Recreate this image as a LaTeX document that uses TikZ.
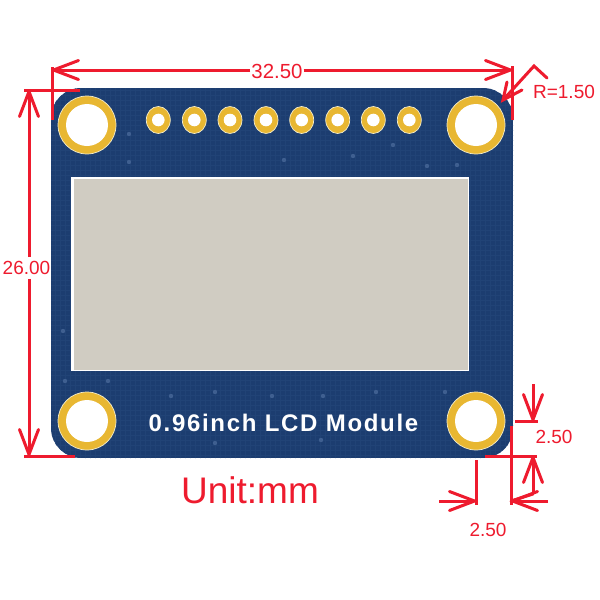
\documentclass[tikz,border=0pt]{standalone}
\usepackage{fontspec}
\setmainfont{Liberation Sans}
\newfontfamily\silkfont[LetterSpace=7]{Liberation Sans Bold}
\usetikzlibrary{arrows.meta}
\definecolor{boardblue}{HTML}{1C3D70}
\definecolor{gridblue}{HTML}{214376}
\definecolor{viablue}{HTML}{3F5F90}
\definecolor{padgold}{HTML}{E8B732}
\definecolor{padedge}{HTML}{F3ECCB}
\definecolor{lcdgray}{HTML}{D0CCC2}
\definecolor{dimred}{HTML}{EE1B2E}
\tikzset{
  dimline/.style={dimred, line width=3pt},
  dimarrow/.style={dimline, -{Straight Barb[length=25pt, width=19pt, round, line width=3pt]}},
  dimtext/.style={text=dimred, inner sep=0pt, font=\fontsize{19}{19}\selectfont},
  bigpad/.style={fill=padgold, draw=padedge, line width=0.7pt},
  hole/.style={fill=white}
}
\begin{document}
\begin{tikzpicture}[x=1pt, y=-1pt]
        \useasboundingbox (0,0) rectangle (600,600);

        % Draw the board with its faint copper grid
        \fill[white] (0,0) rectangle (600,600);
        \begin{scope}
            \clip[rounded corners=30pt] (51,88) rectangle (513,458);
            \fill[boardblue] (51,88) rectangle (513,458);
            \draw[gridblue, line width=0.5pt, step=5pt] (50,85) grid (515,460);
        \end{scope}

        % Draw the vias
        \foreach \x/\y in {129/134, 129/162, 427/166, 457/165, 284/160, 353/156, 393/145,
                           65/381, 108/381, 171/396, 215/392, 272/396, 323/396, 376/392,
                           445/392, 215/443, 321/440, 63/331} {
            \fill[viablue] (\x,\y) circle (2.2pt);
        }

        % Draw the mounting holes
        \foreach \x/\y in {87/125, 476/125, 87/421, 476/421} {
            \filldraw[bigpad] (\x,\y) circle (29pt);
            \fill[hole] (\x,\y) circle (21pt);
        }

        % Draw the row of pin pads
        \foreach \x in {158.3, 194.3, 230, 266, 301.7, 337.7, 373.3, 409.3} {
            \filldraw[bigpad] (\x,120) ellipse (12pt and 13.5pt);
            \fill[hole] (\x,120) circle (6.3pt);
        }

        % Draw the screen
        \fill[white] (71,177) rectangle (469,371);
        \fill[lcdgray] (73.5,179) rectangle (468,369.5);

        % Print the board title
        \node[text=white, inner sep=0pt] (title) at (283.5,423) {\fontsize{24}{24}\silkfont 0.96inch LCD Module};

        % Label the width of the board
        \node[dimtext, font=\fontsize{20.4}{20.4}\selectfont, inner xsep=1pt] (wlabel) at (277,71) {32.50};
        \coordinate (wleft) at (52,70);
        \coordinate (wright) at (512,70);
        \draw[dimarrow] (wlabel.west |- wleft) -- (wleft);
        \draw[dimarrow] (wlabel.east |- wright) -- (wright);
        \draw[dimline] (52,67) -- (52,120);
        \draw[dimline] (512,66) -- (512,120);

        % Label the height of the board
        \node[dimtext, inner ysep=4pt] (hlabel) at (26.5,268) {26.00};
        \coordinate (htop) at (29,90);
        \coordinate (hbottom) at (29,456);
        \draw[dimarrow] (htop |- hlabel.north) -- (htop);
        \draw[dimarrow] (hbottom |- hlabel.south) -- (hbottom);
        \draw[dimline] (24,90) -- (80,90);
        \draw[dimline] (24,456) -- (75,456);

        % Label the corner radius
        \node[dimtext] (rlabel) at (564,92) {R=1.50};
        \coordinate (rtip) at (503,100);
        \draw[dimline, line cap=round, line join=miter] (547,78) -- (534,66) -- (rtip);
        \draw[dimline, line cap=round] (507,82) -- (rtip) -- (522,90);

        % Label the hole offset from the right edge
        \node[dimtext] (vlabel) at (554,437) {2.50};
        \coordinate (vtop) at (533,421);
        \coordinate (vbottom) at (533,456);
        \coordinate (vknee) at (533,494);
        \coordinate (hright) at (511,501);
        \draw[dimarrow] (533,384) -- (vtop);
        \draw[dimline] (515,421) -- (538,421);
        \draw[dimarrow] (vknee) -- (vbottom);
        \draw[dimline] (485,456) -- (537,456);
        \draw[dimline, line cap=round] (vknee) -- (hright);

        % Label the hole offset from the bottom edge
        \node[dimtext] (ulabel) at (488,530) {2.50};
        \coordinate (hleft) at (476,501);
        \draw[dimarrow] (439,501) -- (hleft);
        \draw[dimarrow] (548,501) -- (hright);
        \draw[dimline] (476,460) -- (476,505);
        \draw[dimline] (511,426) -- (511,505);

        % Print the unit
        \node[dimtext, font=\fontsize{37}{37}\selectfont] (unit) at (250,490) {Unit:mm};

\end{tikzpicture}
\end{document}
